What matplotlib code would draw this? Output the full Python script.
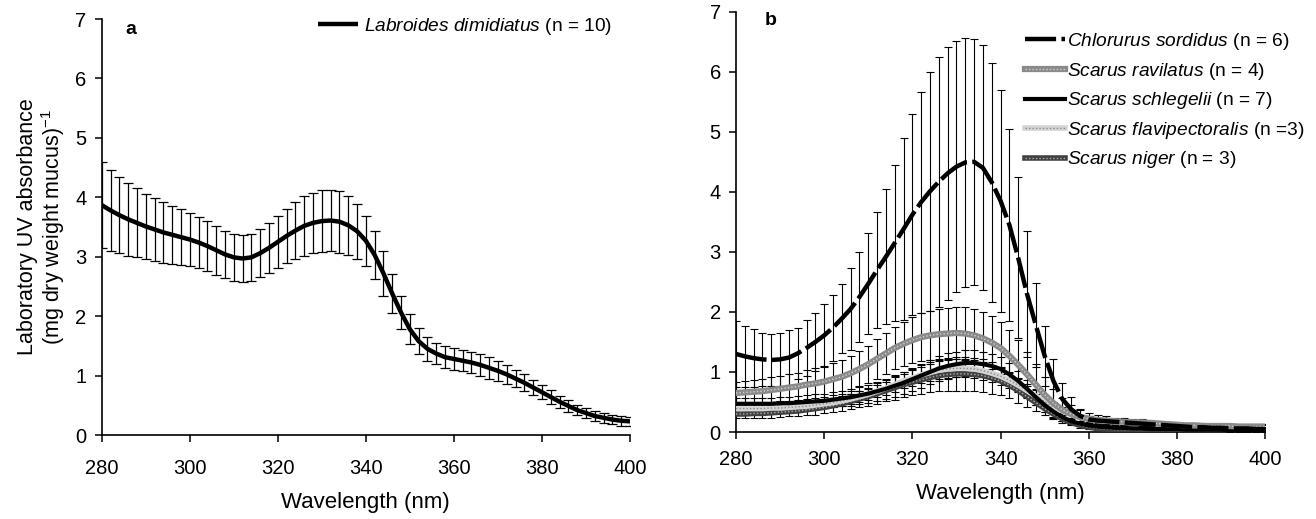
import numpy as np
import matplotlib
matplotlib.use("Agg")
import matplotlib.pyplot as plt

plt.rcParams['font.family'] = ['Liberation Sans', 'DejaVu Sans']
plt.rcParams['mathtext.fontset'] = 'custom'
plt.rcParams['mathtext.rm'] = 'Liberation Sans'
plt.rcParams['mathtext.it'] = 'Liberation Sans:italic'

# wavelength grid of the readings (nm), one reading every 2 nm
wavelength = np.arange(280, 401, 2)

# panel a: Labroides dimidiatus
labroides_mean = [3.87, 3.78, 3.70, 3.63, 3.57, 3.51, 3.46, 3.41, 3.37, 3.33,
                  3.29, 3.24, 3.18, 3.11, 3.04, 2.99, 2.97, 2.99, 3.06, 3.15,
                  3.25, 3.35, 3.44, 3.52, 3.57, 3.60, 3.61, 3.59, 3.53, 3.43,
                  3.27, 3.03, 2.72, 2.38, 2.06, 1.78, 1.58, 1.45, 1.37, 1.31,
                  1.28, 1.25, 1.22, 1.18, 1.13, 1.08, 1.02, 0.95, 0.88, 0.80,
                  0.72, 0.64, 0.56, 0.49, 0.42, 0.37, 0.32, 0.29, 0.26, 0.24,
                  0.23]
labroides_se = [0.73, 0.68, 0.64, 0.61, 0.58, 0.55, 0.53, 0.51, 0.49, 0.47,
                0.45, 0.43, 0.42, 0.41, 0.40, 0.39, 0.39, 0.39, 0.40, 0.42,
                0.44, 0.46, 0.48, 0.50, 0.51, 0.52, 0.52, 0.52, 0.50, 0.46,
                0.42, 0.40, 0.38, 0.33, 0.28, 0.25, 0.22, 0.20, 0.18, 0.18,
                0.18, 0.18, 0.18, 0.18, 0.18, 0.17, 0.16, 0.15, 0.14, 0.13,
                0.12, 0.11, 0.10, 0.10, 0.09, 0.09, 0.08, 0.08, 0.08, 0.08,
                0.08]

# panel b: parrotfishes
sordidus_mean = [1.30, 1.26, 1.23, 1.21, 1.20, 1.21, 1.24, 1.31, 1.40, 1.50,
                 1.61, 1.74, 1.89, 2.05, 2.25, 2.47, 2.70, 2.92, 3.15, 3.38,
                 3.62, 3.83, 4.01, 4.17, 4.31, 4.42, 4.49, 4.50, 4.40, 4.16,
                 3.85, 3.45, 2.90, 2.30, 1.78, 1.27, 0.85, 0.55, 0.38, 0.27,
                 0.21, 0.19, 0.18, 0.17, 0.16, 0.15, 0.14, 0.13, 0.12, 0.11,
                 0.10, 0.09, 0.08, 0.08, 0.07, 0.07, 0.06, 0.06, 0.06, 0.05,
                 0.05]
sordidus_se = [0.55, 0.51, 0.48, 0.44, 0.43, 0.44, 0.46, 0.43, 0.47, 0.49,
               0.52, 0.55, 0.57, 0.68, 0.75, 0.84, 0.96, 1.12, 1.30, 1.52,
               1.67, 1.84, 1.99, 2.08, 2.11, 2.09, 2.08, 2.05, 2.04, 1.99,
               1.85, 1.60, 1.34, 1.05, 0.70, 0.50, 0.37, 0.26, 0.20, 0.11,
               0.06, 0.05, 0.05, 0.04, 0.04, 0.04, 0.04, 0.03, 0.03, 0.03,
               0.03, 0.03, 0.03, 0.03, 0.03, 0.03, 0.03, 0.03, 0.03, 0.03,
               0.03]

ravilatus_mean = [0.65, 0.66, 0.67, 0.68, 0.70, 0.72, 0.74, 0.76, 0.79, 0.81,
                  0.84, 0.88, 0.92, 0.98, 1.05, 1.13, 1.22, 1.31, 1.40, 1.47,
                  1.53, 1.58, 1.61, 1.63, 1.64, 1.65, 1.64, 1.61, 1.56, 1.49,
                  1.40, 1.27, 1.12, 0.96, 0.79, 0.62, 0.48, 0.37, 0.30, 0.25,
                  0.22, 0.20, 0.19, 0.18, 0.17, 0.16, 0.16, 0.15, 0.14, 0.13,
                  0.12, 0.11, 0.11, 0.10, 0.10, 0.10, 0.10, 0.09, 0.09, 0.09,
                  0.09]
ravilatus_se = [0.19, 0.19, 0.20, 0.20, 0.21, 0.21, 0.22, 0.23, 0.24, 0.25,
                0.26, 0.27, 0.28, 0.29, 0.30, 0.31, 0.33, 0.34, 0.35, 0.37,
                0.38, 0.40, 0.41, 0.42, 0.43, 0.44, 0.44, 0.44, 0.44, 0.44,
                0.44, 0.43, 0.41, 0.38, 0.34, 0.29, 0.24, 0.19, 0.15, 0.12,
                0.10, 0.08, 0.07, 0.06, 0.06, 0.05, 0.05, 0.05, 0.05, 0.04,
                0.04, 0.04, 0.04, 0.04, 0.04, 0.04, 0.04, 0.04, 0.04, 0.04,
                0.04]

schlegelii_mean = [0.47, 0.47, 0.47, 0.47, 0.47, 0.48, 0.48, 0.49, 0.50, 0.51,
                   0.52, 0.54, 0.56, 0.58, 0.61, 0.64, 0.68, 0.72, 0.77, 0.82,
                   0.88, 0.94, 1.00, 1.06, 1.10, 1.13, 1.15, 1.15, 1.13, 1.10,
                   1.05, 0.96, 0.85, 0.72, 0.58, 0.45, 0.34, 0.25, 0.18, 0.14,
                   0.11, 0.09, 0.08, 0.07, 0.07, 0.06, 0.06, 0.05, 0.05, 0.05,
                   0.05, 0.04, 0.04, 0.04, 0.04, 0.04, 0.03, 0.03, 0.03, 0.03,
                   0.03]
schlegelii_se = [0.10, 0.10, 0.10, 0.10, 0.10, 0.11, 0.11, 0.11, 0.12, 0.12,
                 0.12, 0.13, 0.13, 0.14, 0.15, 0.15, 0.16, 0.17, 0.18, 0.18,
                 0.19, 0.20, 0.20, 0.21, 0.21, 0.21, 0.21, 0.21, 0.21, 0.20,
                 0.20, 0.19, 0.17, 0.15, 0.13, 0.11, 0.09, 0.07, 0.05, 0.04,
                 0.03, 0.03, 0.03, 0.03, 0.02, 0.02, 0.02, 0.02, 0.02, 0.02,
                 0.02, 0.02, 0.02, 0.02, 0.02, 0.02, 0.02, 0.02, 0.02, 0.02,
                 0.02]

flavi_mean = [0.39, 0.39, 0.39, 0.39, 0.40, 0.40, 0.41, 0.42, 0.43, 0.45,
              0.47, 0.49, 0.52, 0.55, 0.59, 0.63, 0.68, 0.73, 0.79, 0.85,
              0.90, 0.95, 0.99, 1.03, 1.05, 1.06, 1.06, 1.05, 1.02, 0.98,
              0.93, 0.86, 0.78, 0.69, 0.60, 0.51, 0.42, 0.35, 0.29, 0.24,
              0.21, 0.19, 0.18, 0.17, 0.16, 0.16, 0.15, 0.15, 0.14, 0.13,
              0.12, 0.12, 0.11, 0.11, 0.10, 0.10, 0.10, 0.09, 0.09, 0.09,
              0.09]
flavi_se = [0.05, 0.05, 0.05, 0.05, 0.05, 0.05, 0.06, 0.06, 0.06, 0.06,
            0.07, 0.07, 0.08, 0.08, 0.09, 0.09, 0.10, 0.11, 0.12, 0.12,
            0.13, 0.14, 0.14, 0.15, 0.15, 0.15, 0.15, 0.15, 0.15, 0.14,
            0.14, 0.13, 0.12, 0.11, 0.10, 0.09, 0.08, 0.07, 0.06, 0.05,
            0.05, 0.04, 0.04, 0.04, 0.04, 0.03, 0.03, 0.03, 0.03, 0.03,
            0.03, 0.03, 0.03, 0.03, 0.03, 0.03, 0.03, 0.03, 0.03, 0.03,
            0.03]

niger_mean = [0.30, 0.30, 0.31, 0.31, 0.32, 0.33, 0.34, 0.35, 0.37, 0.39,
              0.41, 0.44, 0.47, 0.51, 0.55, 0.59, 0.64, 0.69, 0.74, 0.79,
              0.83, 0.87, 0.91, 0.94, 0.96, 0.97, 0.97, 0.96, 0.94, 0.90,
              0.85, 0.78, 0.69, 0.59, 0.49, 0.39, 0.30, 0.22, 0.16, 0.11,
              0.08, 0.06, 0.05, 0.04, 0.04, 0.04, 0.04, 0.04, 0.03, 0.03,
              0.03, 0.03, 0.03, 0.03, 0.03, 0.03, 0.02, 0.02, 0.02, 0.02,
              0.02]
niger_se = [0.07, 0.07, 0.07, 0.07, 0.08, 0.08, 0.08, 0.09, 0.09, 0.10,
            0.10, 0.11, 0.12, 0.13, 0.14, 0.15, 0.17, 0.18, 0.20, 0.21,
            0.22, 0.24, 0.25, 0.26, 0.27, 0.28, 0.28, 0.28, 0.27, 0.26,
            0.24, 0.22, 0.20, 0.17, 0.14, 0.11, 0.09, 0.07, 0.05, 0.04,
            0.03, 0.03, 0.02, 0.02, 0.02, 0.02, 0.02, 0.02, 0.02, 0.02,
            0.02, 0.02, 0.02, 0.02, 0.02, 0.02, 0.02, 0.02, 0.02, 0.02,
            0.02]

fig = plt.figure(figsize=(13.16, 5.19), dpi=100)
ax1 = fig.add_axes([0.0773, 0.1618, 0.4014, 0.8015])
ax2 = fig.add_axes([0.5593, 0.1676, 0.4020, 0.8098])

TICK_FS = 14.5
LABEL_FS = 16
LEG_FS = 13.8


def style_axis(ax, xpad):
    ax.set_xlim(280, 400)
    ax.set_ylim(0, 7)
    ax.set_xticks(range(280, 401, 20))
    ax.set_yticks(range(0, 8))
    for s in ['top', 'right']:
        ax.spines[s].set_visible(False)
    for s in ['left', 'bottom']:
        ax.spines[s].set_linewidth(1.2)
    ax.tick_params(axis='x', direction='out', length=5, width=1.1, pad=xpad, labelsize=TICK_FS)
    ax.tick_params(axis='y', direction='out', length=5, width=1.1, pad=6, labelsize=TICK_FS)
    ax.set_xlabel('Wavelength (nm)', fontsize=LABEL_FS, labelpad=10)


bar_kw = dict(fmt='none', ecolor='black', elinewidth=0.9, capsize=3.5, capthick=0.9)

# ---- panel a ----
ax1.errorbar(wavelength, labroides_mean, yerr=labroides_se, zorder=2, **bar_kw)
ax1.plot(wavelength, labroides_mean, color='black', lw=3.2, zorder=3,
         label=r'$\it{Labroides\ dimidiatus}$ (n = 10)', solid_capstyle='butt')
style_axis(ax1, 12)
ax1.set_ylabel('Laboratory UV absorbance\n(mg dry weight mucus)$^{-1}$', fontsize=LABEL_FS - 0.5,
               labelpad=6, linespacing=1.05)
ax1.text(0.045, 0.975, 'a', transform=ax1.transAxes, fontsize=14, fontweight='bold',
         ha='left', va='center')
ax1.legend(loc='upper left', bbox_to_anchor=(318 / 1316, 1 - 16 / 519),
           bbox_transform=fig.transFigure, frameon=False, fontsize=LEG_FS,
           handlelength=2.1, handletextpad=0.3, borderaxespad=0, borderpad=0)

# ---- panel b ----
bar_kw_b = dict(bar_kw, capsize=3, elinewidth=0.8, capthick=0.8)
for m, e in [(niger_mean, niger_se), (flavi_mean, flavi_se), (schlegelii_mean, schlegelii_se),
             (ravilatus_mean, ravilatus_se), (sordidus_mean, sordidus_se)]:
    ax2.errorbar(wavelength, m, yerr=e, zorder=2, **bar_kw_b)

nb, = ax2.plot(wavelength, niger_mean, color='#404040', lw=4, zorder=3)
nd, = ax2.plot(wavelength, niger_mean, color='#b0b0b0', lw=1.0, ls=(0, (1, 1.5)), zorder=3.1)
fb, = ax2.plot(wavelength, flavi_mean, color='#d4d4d4', lw=4, zorder=4)
fd, = ax2.plot(wavelength, flavi_mean, color='#8a8a8a', lw=1.0, ls=(0, (1, 1.5)), zorder=4.1)
sb, = ax2.plot(wavelength, schlegelii_mean, color='black', lw=3, zorder=5)
rb, = ax2.plot(wavelength, ravilatus_mean, color='#8a8a8a', lw=4.5, zorder=6)
rd, = ax2.plot(wavelength, ravilatus_mean, color='#d0d0d0', lw=1.0, ls=(0, (1, 1.5)), zorder=6.1)
cb, = ax2.plot(wavelength, sordidus_mean, color='black', lw=3.2, ls=(0, (7, 1.2)), zorder=7)

style_axis(ax2, 8)
ax2.text(0.055, 0.98, 'b', transform=ax2.transAxes, fontsize=14, fontweight='bold',
         ha='left', va='center')
ax2.legend([cb, (rb, rd), sb, (fb, fd), (nb, nd)],
           [r'$\it{Chlorurus\ sordidus}$ (n = 6)',
            r'$\it{Scarus\ ravilatus}$ (n = 4)',
            r'$\it{Scarus\ schlegelii}$ (n = 7)',
            r'$\it{Scarus\ flavipectoralis}$ (n =3)',
            r'$\it{Scarus\ niger}$ (n = 3)'],
           loc='upper left', bbox_to_anchor=(1025 / 1316, 1 - 31 / 519),
           bbox_transform=fig.transFigure, frameon=False, fontsize=LEG_FS,
           handlelength=2.1, handletextpad=0.1, labelspacing=0.45, borderaxespad=0,
           borderpad=0)

fig.savefig('out.png', dpi=100)
